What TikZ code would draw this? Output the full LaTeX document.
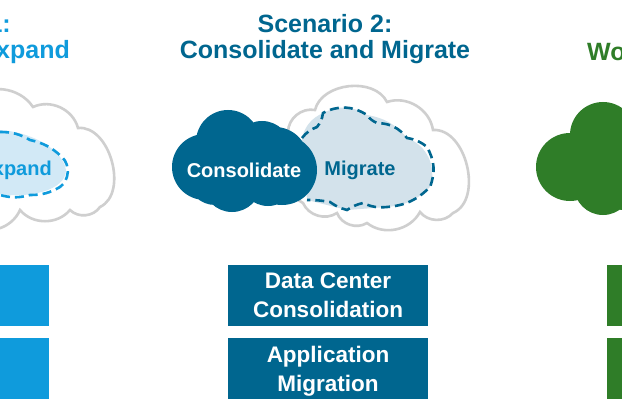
\documentclass[tikz,border=0pt]{standalone}
\usepackage{fontspec}
\setmainfont{Liberation Sans}
\definecolor{teal1}{HTML}{00668F}
\definecolor{blue1}{HTML}{0F9BDC}
\definecolor{green1}{HTML}{2F7D28}
\definecolor{lightteal}{HTML}{D3E2EB}
\definecolor{lightblue}{HTML}{D2E9F6}
\definecolor{cloudgrey}{HTML}{CFCFCF}
\tikzset{
  title/.style={font=\fontsize{25}{29}\selectfont\bfseries,inner sep=0pt,anchor=center},
  cloudlabel/.style={font=\fontsize{20}{23}\selectfont\bfseries,inner sep=0pt},
  boxtext/.style={font=\fontsize{22.5}{29}\selectfont\bfseries,text=white,align=center,inner sep=0pt},
  stepbox/.style={fill=#1,inner sep=0pt,outer sep=0pt,minimum height=61pt},
  outline/.style={draw=cloudgrey,line width=2.6pt,fill=white,bend left=50},
  dashedcloud/.style={draw=#1,line width=2.6pt,dash pattern=on 9pt off 5pt,bend left=35},
}
\begin{document}
\begin{tikzpicture}[x=1pt,y=-1pt]
\useasboundingbox (0,0) rectangle (622,420);
\clip (0,0) rectangle (622,420);
\fill[white] (0,0) rectangle (622,420);

% Scenario 1 (cut by the left edge)
\draw[outline] (-30,100) to (33,107) to (78,128) to[bend left=80] (100,207) to (70,210) to (20,210) to (-30,225);
\fill[lightblue] (-10,130) .. controls (20,128) and (62,145) .. (66,170) .. controls (66,190) and (30,200) .. (-10,193) -- cycle;
\draw[dashedcloud=blue1] (0,132) to[bend left=15] (30,140) to[bend left=15] (62,157) to[bend left=50] (60,187) to[bend left=15] (30,195) to[bend left=15] (0,195);
\node[title,text=blue1,anchor=east] (t1a) at (11,24) {1:};
\node[title,text=blue1,anchor=east] (t1b) at (70,52) {xpand};
\node[cloudlabel,text=blue1,anchor=east] (l1) at (52,170) {xpand};
\node[stepbox=blue1,minimum width=49pt,anchor=north west] (b1a) at (0,265) {};
\node[stepbox=blue1,minimum width=49pt,anchor=north west] (b1b) at (0,338) {};

% Scenario 2
\draw[outline] (288,132) to (315,110) to[bend left=70] (387,102) to (433,130) to[bend left=80] (453,213) to (420,212) to (367,223) to (337,213) to (303,203) to cycle;
\fill[lightteal] (302,138) to[bend left=25] (323,113) to[bend left=30] (367,115) to[bend left=20] (407,138) to[bend left=45] (430,187) to[bend left=20] (387,207) to (347,210) to (307,200) -- cycle;
\draw[dashedcloud=teal1] (302,138) to[bend left=15] (317,127) to[bend right=15] (323,113) to[bend left=30] (367,115) to[bend right=15] (377,123) to[bend left=25] (407,138) to[bend left=15] (427,147) to[bend left=25] (430,187) to[bend left=20] (387,207) to[bend left=15] (363,203) to[bend right=10] (347,210) to[bend left=10] (330,202) to[bend right=5] (307,200);
\fill[teal1] (205,167) circle[radius=33] (228,142) circle[radius=32] (262,150) circle[radius=29] (275,160) circle[radius=33] (282,170) circle[radius=35] (268,178) circle[radius=28] (232,183) circle[radius=29] (215,178) circle[radius=27];
\node[title,text=teal1] (t2a) at (325,24) {Scenario 2:};
\node[title,text=teal1] (t2b) at (325,52) {Consolidate and Migrate};
\node[cloudlabel,text=white] (l2a) at (244,170) {Consolidate};
\node[cloudlabel,text=teal1] (l2b) at (360,170) {Migrate};
\node[stepbox=teal1,minimum width=200pt,anchor=north west] (b2a) at (228,265) {};
\node[stepbox=teal1,minimum width=200pt,anchor=north west] (b2b) at (228,338) {};
\node[boxtext] (b2at) at (b2a.center) {Data Center\\Consolidation};
\node[boxtext] (b2bt) at ([yshift=-3pt]b2b.center) {Application\\Migration};

% Scenario 3 (cut by the right edge)
\fill[green1] (570,167) circle[radius=34] (603,135) circle[radius=33] (603,186) circle[radius=29] (625,165) circle[radius=45];
\node[title,text=green1,anchor=west] (t3) at (587,52) {Wo};
\node[stepbox=green1,minimum width=20pt,anchor=north west] (b3a) at (607,265) {};
\node[stepbox=green1,minimum width=20pt,anchor=north west] (b3b) at (607,338) {};
\end{tikzpicture}
\end{document}
